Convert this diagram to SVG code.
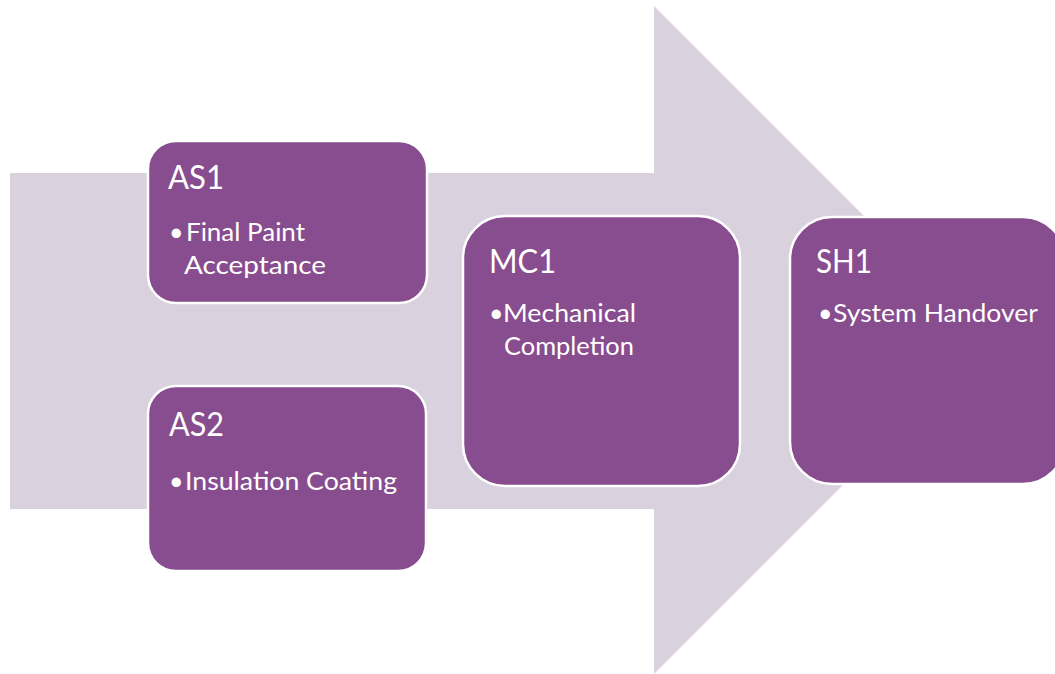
<svg xmlns="http://www.w3.org/2000/svg" width="1055" height="674" viewBox="0 0 1055 674">
<style>
.node{fill:#884D8E;stroke:#FFFFFF;stroke-width:2.5}
.t{font-family:Lato,"Liberation Sans",sans-serif;fill:#FFFFFF}
.h{font-size:32px}
.b{font-size:25px}
</style>
<rect width="1055" height="674" fill="#FFFFFF"/>
<g id="arrow">
<polygon points="10,173 654,173 654,6 988,340 654,674 654,509 10,509" fill="#DAD1DE"/>
</g>
<g id="connectors"></g>
<g id="AS1">
<rect class="node" x="148" y="141" width="279" height="162" rx="28"/>
<text class="t h" x="168" y="189" textLength="56" lengthAdjust="spacingAndGlyphs">AS1</text>
<text class="t b" x="169" y="241">•</text>
<text class="t b" x="186" y="241" textLength="119" lengthAdjust="spacingAndGlyphs">Final Paint</text>
<text class="t b" x="184" y="274" textLength="142" lengthAdjust="spacingAndGlyphs">Acceptance</text>
</g>
<g id="AS2">
<rect class="node" x="148" y="386" width="278" height="185" rx="28"/>
<text class="t h" x="169" y="436" textLength="55" lengthAdjust="spacingAndGlyphs">AS2</text>
<text class="t b" x="169" y="490">•</text>
<text class="t b" x="185" y="490" textLength="212" lengthAdjust="spacingAndGlyphs">Insulation Coating</text>
</g>
<g id="MC1">
<rect class="node" x="463" y="216" width="277" height="270" rx="42"/>
<text class="t h" x="489" y="273" textLength="67" lengthAdjust="spacingAndGlyphs">MC1</text>
<text class="t b" x="489" y="322">•</text>
<text class="t b" x="503" y="322" textLength="133" lengthAdjust="spacingAndGlyphs">Mechanical</text>
<text class="t b" x="504" y="355" textLength="130" lengthAdjust="spacingAndGlyphs">Completion</text>
</g>
<g id="SH1">
<rect class="node" x="790" y="217" width="275" height="267" rx="42"/>
<text class="t h" x="816" y="273" textLength="56" lengthAdjust="spacingAndGlyphs">SH1</text>
<text class="t b" x="818" y="322">•</text>
<text class="t b" x="833" y="322" textLength="205" lengthAdjust="spacingAndGlyphs">System Handover</text>
</g>
</svg>
